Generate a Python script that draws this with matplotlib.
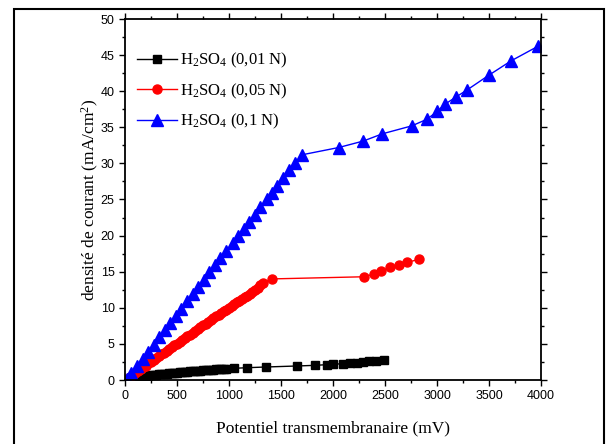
import matplotlib
matplotlib.use("Agg")
import matplotlib.pyplot as plt
from matplotlib.patches import Rectangle
from matplotlib.ticker import MultipleLocator

plt.rcParams['mathtext.fontset'] = 'custom'
plt.rcParams['mathtext.rm'] = 'Liberation Serif'
plt.rcParams['mathtext.it'] = 'Liberation Serif:italic'

# H2SO4 0,01 N
x_001 = [0, 25, 50, 75, 100, 125, 150, 175, 200, 225, 250, 275, 300, 325, 350,
         375, 400, 425, 450, 475, 500, 525, 550, 575, 600, 625, 650, 675, 700,
         725, 750, 775, 800, 825, 850, 875, 900, 925, 950, 975,
         1048, 1170, 1352, 1651, 1827, 1939, 2003, 2093, 2163, 2228, 2292,
         2349, 2413, 2493]
y_001 = [0.0, 0.1, 0.18, 0.25, 0.32, 0.38, 0.44, 0.5, 0.55, 0.6, 0.65, 0.7,
         0.74, 0.78, 0.82, 0.86, 0.9, 0.93, 0.97, 1.0, 1.03, 1.06, 1.09, 1.12,
         1.15, 1.18, 1.21, 1.24, 1.27, 1.3, 1.33, 1.36, 1.39, 1.41, 1.44,
         1.47, 1.49, 1.52, 1.55, 1.58,
         1.62, 1.7, 1.8, 1.94, 2.03, 2.12, 2.2, 2.24, 2.3, 2.4, 2.5,
         2.6, 2.7, 2.8]

# H2SO4 0,05 N
x_005 = [0, 25, 50, 75, 100, 125, 150, 175, 200, 225, 250, 275, 300, 325, 350,
         375, 400, 425, 450, 475, 500, 525, 550, 575, 600, 625, 650, 675, 700,
         725, 750, 775, 800, 825, 850, 875, 900, 925, 950, 975, 1000, 1025,
         1050, 1075, 1100, 1125, 1150, 1175, 1200, 1225, 1250, 1275, 1300,
         1330, 1410, 2301, 2397, 2462, 2551, 2632, 2715, 2824]
y_005 = [0.0, 0.2, 0.45, 0.7, 0.95, 1.2, 1.5, 1.75, 2.0, 2.3, 2.55, 2.8, 3.05,
         3.3, 3.55, 3.8, 4.05, 4.3, 4.55, 4.8, 5.05, 5.3, 5.55, 5.8, 6.05,
         6.3, 6.55, 6.8, 7.05, 7.3, 7.55, 7.8, 8.05, 8.3, 8.55, 8.8, 9.05,
         9.3, 9.5, 9.75, 10.0, 10.25, 10.5, 10.75, 11.0, 11.2, 11.45, 11.7,
         11.95, 12.2, 12.5, 12.8, 13.1, 13.5, 14.0, 14.3, 14.7, 15.1, 15.6,
         15.9, 16.3, 16.7]

# H2SO4 0,1 N
x_01 = [15, 58, 112, 170, 222, 279, 330, 384, 436, 490, 542, 596, 650, 702,
        756, 810, 864, 918, 972, 1041, 1086, 1140, 1194, 1248, 1302, 1362,
        1412, 1464, 1516, 1574, 1638, 1705,
        2055, 2292, 2475, 2758, 2901, 3003, 3077, 3183, 3292, 3497, 3712, 3968]
y_01 = [0.2, 1.0, 1.9, 2.95, 3.9, 4.9, 5.9, 6.9, 7.9, 8.9, 9.9, 10.9, 11.9,
        12.9, 13.9, 14.9, 15.9, 16.9, 17.9, 19.0, 19.9, 20.9, 21.9, 22.9,
        23.9, 25.0, 25.9, 26.9, 28.0, 29.1, 30.1, 31.2,
        32.2, 33.1, 34.1, 35.2, 36.1, 37.2, 38.2, 39.2, 40.2, 42.2, 44.2, 46.2]

labels = [r'H$_2$SO$_4$ (0,01 N)', r'H$_2$SO$_4$ (0,05 N)', r'H$_2$SO$_4$ (0,1 N)']

fig = plt.figure(figsize=(6.09, 4.44), dpi=100)
ax = fig.add_axes([125 / 609, 1 - 380 / 444, 416 / 609, 361 / 444])

# outer frame of the figure
fig.patches.append(Rectangle((14 / 609, -0.05), 590 / 609, 1.05 - 9 / 444,
                             transform=fig.transFigure, fill=False,
                             edgecolor='black', linewidth=1.5))

ax.plot(x_001, y_001, color='black', marker='s', markersize=6, linewidth=1,
        label=labels[0])
ax.plot(x_005, y_005, color='red', marker='o', markersize=6.5, linewidth=1,
        label=labels[1])
ax.plot(x_01, y_01, color='blue', marker='^', markersize=8, linewidth=1,
        label=labels[2])

ax.set_xlim(0, 4000)
ax.set_ylim(0, 50)
ax.xaxis.set_major_locator(MultipleLocator(500))
ax.xaxis.set_minor_locator(MultipleLocator(250))
ax.yaxis.set_major_locator(MultipleLocator(5))
ax.yaxis.set_minor_locator(MultipleLocator(2.5))
ax.tick_params(which='both', direction='out', top=True, right=True,
               width=1, labelsize=9)
ax.tick_params(which='major', length=4)
ax.tick_params(which='minor', length=2.5)
for lab in ax.get_xticklabels() + ax.get_yticklabels():
    lab.set_family('Liberation Sans')
for sp in ax.spines.values():
    sp.set_linewidth(1.3)

ax.set_xlabel('Potentiel transmembranaire (mV)', family='Liberation Serif',
              fontsize=12.5, labelpad=13)
ax.set_ylabel(r'densité de courant (mA/cm$^2$)', family='Liberation Serif',
              fontsize=12.5, labelpad=0)

ax.legend(loc='upper left', bbox_to_anchor=(0.029, 0.912), frameon=False,
          borderpad=0, borderaxespad=0, handlelength=2.4, handletextpad=0.2,
          labelspacing=0.68, prop={'family': 'Liberation Serif', 'size': 12})

fig.savefig('out.png', dpi=100)
